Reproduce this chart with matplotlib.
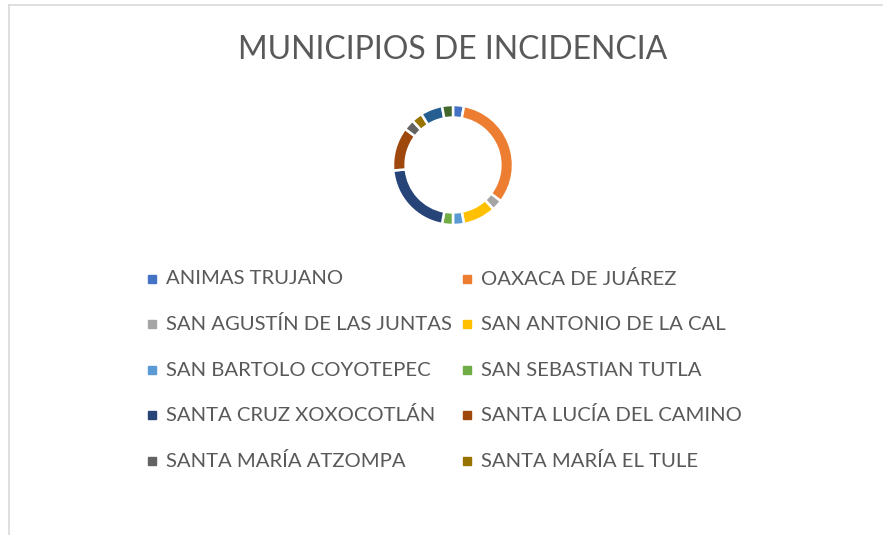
import matplotlib
matplotlib.use('Agg')
import matplotlib.pyplot as plt
from matplotlib.lines import Line2D
from matplotlib.patches import Rectangle

# municipios (las dos ultimas no salen en la leyenda original)
municipios = ['ANIMAS TRUJANO', 'OAXACA DE JUÁREZ', 'SAN AGUSTÍN DE LAS JUNTAS',
              'SAN ANTONIO DE LA CAL', 'SAN BARTOLO COYOTEPEC', 'SAN SEBASTIAN TUTLA',
              'SANTA CRUZ XOXOCOTLÁN', 'SANTA LUCÍA DEL CAMINO', 'SANTA MARÍA ATZOMPA',
              'SANTA MARÍA EL TULE', 'OTRO 1', 'OTRO 2']
casos = [1, 11, 1, 3, 1, 1, 7, 4, 1, 1, 2, 1]
colores = ['#4472C4', '#ED7D31', '#A5A5A5', '#FFC000', '#5B9BD5', '#70AD47',
           '#264478', '#9E480E', '#636363', '#997300', '#255E91', '#43682B']
n_leyenda = 10

W, H = 883, 535
fig = plt.figure(figsize=(W / 100, H / 100), dpi=100)
font = 'Lato'
gris = '#595959'

# marco del grafico
fig.add_artist(Line2D([9 / W, 9 / W], [0, 1 - 5 / H], color='#D9D9D9', lw=1.2))
fig.add_artist(Line2D([9 / W, 882 / W], [1 - 5 / H, 1 - 5 / H], color='#D9D9D9', lw=1.2))

fig.text(453 / W, 1 - 50 / H, 'MUNICIPIOS DE INCIDENCIA', ha='center', va='center',
         fontsize=23, color=gris, family=font)

# dona
cx, cy, r = 453, 165, 60
ax = fig.add_axes([(cx - r) / W, 1 - (cy + r) / H, 2 * r / W, 2 * r / H])
ax.pie(casos, colors=colores, startangle=90, counterclock=False, radius=1,
       wedgeprops=dict(width=0.21, edgecolor='white', linewidth=1.8))
ax.set_xlim(-1, 1)
ax.set_ylim(-1, 1)
ax.axis('off')

# leyenda en dos columnas
filas = [279, 324, 370, 415, 461]
col_x = [152, 467]
for i in range(n_leyenda):
    fila, col = divmod(i, 2)
    x, y = col_x[col], filas[fila]
    fig.add_artist(Rectangle(((x - 4) / W, 1 - (y + 4) / H), 8 / W, 8 / H,
                             color=colores[i], transform=fig.transFigure))
    fig.text((x + 14) / W, 1 - y / H, municipios[i], ha='left', va='center',
             fontsize=14.6, color=gris, family=font)

fig.savefig('out.png', dpi=100)
